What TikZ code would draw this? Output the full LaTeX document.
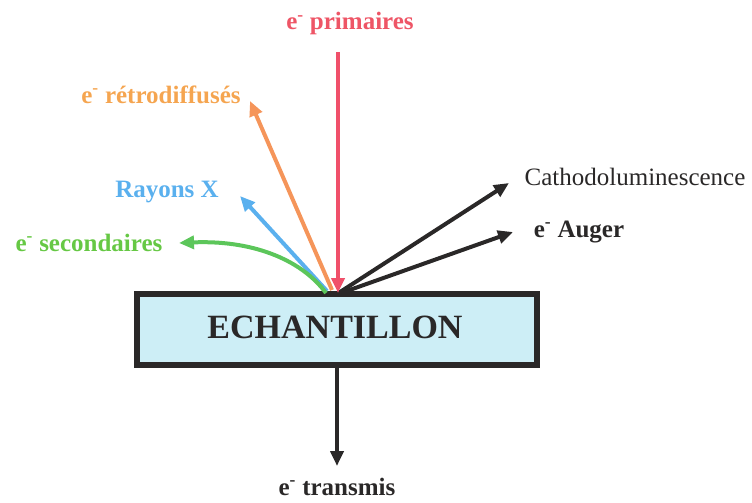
\documentclass[tikz,border=0pt]{standalone}
\usepackage{fontspec}
\setmainfont{Liberation Serif}
\usetikzlibrary{arrows.meta}
\definecolor{cred}{HTML}{F0506A}
\definecolor{corange}{HTML}{F5955A}
\definecolor{cblue}{HTML}{5AB0EE}
\definecolor{cgreen}{HTML}{5CC65A}
\definecolor{cdark}{HTML}{2A2828}
\definecolor{cfill}{HTML}{CDEEF6}
\definecolor{tred}{HTML}{EE5566}
\definecolor{torange}{HTML}{F5A550}
\definecolor{tgreen}{HTML}{66C844}
\begin{document}
\begin{tikzpicture}[x=1pt,y=-1pt,
  lab/.style={anchor=base,font=\fontsize{25}{28}\selectfont\bfseries,inner sep=0pt},
  ray/.style={line width=4pt,-{Triangle[length=15pt,width=13pt]}},
]
\useasboundingbox (0,0) rectangle (752,503);
% sample box
\node[draw=cdark,line width=6.5pt,fill=cfill,minimum width=400pt,minimum height=71pt,inner sep=0pt] (box) at (337,329.5) {};
\node[anchor=base,font=\fontsize{34}{38}\selectfont\bfseries,text=cdark] (ech) at (335,338) {ECHANTILLON};
% impact point
\coordinate (imp) at (336,292);
\coordinate (impr) at (344,292);
\coordinate (top) at (338,52);
% labels
\node[lab,text=tred] (prim) at (350,30) {e\textsuperscript{-} primaires};
\node[lab,text=torange] (retro) at (161,103) {e\textsuperscript{-} rétrodiffusés};
\node[lab,text=cblue] (rx) at (167,197) {Rayons X};
\node[lab,text=tgreen] (sec) at (89,251) {e\textsuperscript{-} secondaires};
\node[lab,font=\fontsize{25}{28}\selectfont,text=cdark] (cath) at (635,185) {Cathodoluminescence};
\node[lab,text=cdark] (aug) at (579,237) {e\textsuperscript{-} Auger};
\node[lab,text=cdark] (trans) at (337,495) {e\textsuperscript{-} transmis};
% tips
\coordinate (tretro) at (250,101);
\coordinate (trx) at (240,196);
\coordinate (tsec) at (179,243);
\coordinate (tcath) at (509,183);
\coordinate (taug) at (513,232);
\coordinate (ttrans) at (337,466);
% arrows
\draw[ray,cred] (top) -- (338,293);
\draw[ray,corange] (332,290) -- (tretro);
\draw[ray,cblue] (327,291) -- (trx);
\draw[ray,cgreen] (326,293) .. controls (300,258) and (250,240) .. (tsec);
\draw[ray,cdark] (340,292) -- (tcath);
\draw[ray,cdark] (impr) -- (taug);
\draw[ray,cdark] (box.south) -- (ttrans);
\end{tikzpicture}
\end{document}
